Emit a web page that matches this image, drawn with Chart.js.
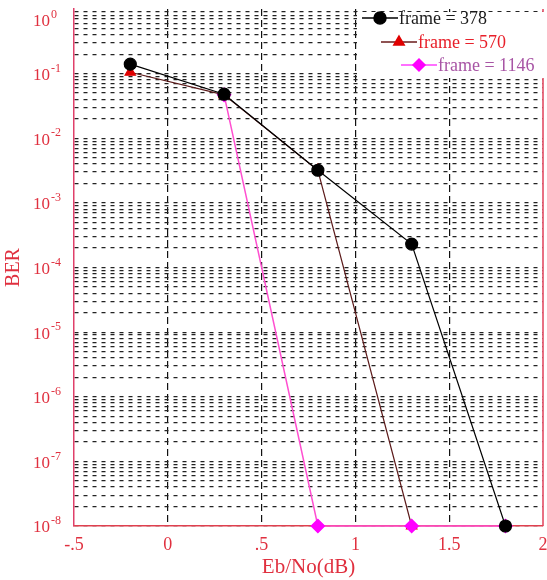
<!DOCTYPE html>
<html lang="en">
<head>
    <meta charset="UTF-8">
    <title>BER vs Eb/No</title>
    <script src="https://cdn.jsdelivr.net/npm/chart.js"></script>
    <style>
        * {
            margin: 0;
            padding: 0;
            box-sizing: border-box;
        }
        body {
            background-color: #ffffff;
        }
        .chart-box {
            width: 547px;
            height: 580px;
        }
    </style>
</head>
<body>
    <div class="chart-box">
        <canvas id="berChart" width="547" height="580"></canvas>
    </div>

    <script>
        // data
        const ebNo = [-0.2, 0.3, 0.8, 1.3, 1.8];
        const ber378 = [0.14, 0.048, 0.0032, 0.00023, 1e-8];
        const ber570 = [0.105, 0.047, 0.0032, 1e-8, null];
        const ber1146 = [null, 0.047, 1e-8, 1e-8, 1e-8];
        const seriesNames = ['frame = 378', 'frame = 570', 'frame = 1146'];

        const xTickValues = [-0.5, 0, 0.5, 1, 1.5, 2];
        const xTickLabels = ['-.5', '0', '.5', '1', '1.5', '2'];
        const yExponents = [0, -1, -2, -3, -4, -5, -6, -7, -8];
        const yMinorSteps = [1, 2, 3, 4, 5, 6, 7, 8, 9];

        const axisRed = '#e0303f';
        const serif = '"Liberation Serif", "Times New Roman", serif';

        function toPoints(values) {
            return ebNo.map((x, i) => ({ x: x, y: values[i] }));
        }

        // y labels as 10 with a raised exponent, right border and the staggered legend
        const decorPlugin = {
            id: 'decor',
            afterDatasetsDraw(chart) {
                const ctx = chart.ctx;
                const area = chart.chartArea;
                const yScale = chart.scales.y;

                ctx.save();
                ctx.strokeStyle = '#e0405a';
                ctx.lineWidth = 1.5;
                ctx.beginPath();
                ctx.moveTo(area.right, area.top);
                ctx.lineTo(area.right, area.bottom);
                ctx.stroke();

                // legend box hides the grid behind it
                const lx = area.right - 186;
                ctx.fillStyle = '#ffffff';
                ctx.fillRect(lx, area.top + 3, chart.width - lx, 66);

                const entries = [
                    { name: seriesNames[0], line: '#000000', mark: '#000000', text: '#1a1a1a', style: 'circle', dx: 5, y: 18 },
                    { name: seriesNames[1], line: '#6a1a1a', mark: '#e00000', text: '#e8202a', style: 'triangle', dx: 24, y: 42 },
                    { name: seriesNames[2], line: '#ff40ff', mark: '#ff00ff', text: '#a855a5', style: 'rectRot', dx: 44, y: 65 }
                ];
                entries.forEach(e => {
                    const x0 = lx + e.dx;
                    ctx.strokeStyle = e.line;
                    ctx.lineWidth = 1.5;
                    ctx.beginPath();
                    ctx.moveTo(x0, e.y);
                    ctx.lineTo(x0 + 36, e.y);
                    ctx.stroke();
                    ctx.fillStyle = e.mark;
                    ctx.strokeStyle = e.mark;
                    Chart.helpers.drawPoint(ctx, { pointStyle: e.style, radius: 6, borderWidth: 1 }, x0 + 18, e.y);
                    ctx.fillStyle = e.text;
                    ctx.font = '18px ' + serif;
                    ctx.textAlign = 'left';
                    ctx.textBaseline = 'middle';
                    ctx.fillText(e.name, x0 + 37, e.y + 1);
                });

                ctx.fillStyle = axisRed;
                ctx.textBaseline = 'middle';
                yExponents.forEach(exp => {
                    let py = yScale.getPixelForValue(Math.pow(10, exp));
                    py = Math.max(py, area.top + 11);
                    ctx.font = '17px ' + serif;
                    ctx.textAlign = 'right';
                    ctx.fillText('10', area.left - 24, py + 2);
                    ctx.font = '12px ' + serif;
                    ctx.textAlign = 'left';
                    ctx.fillText(String(exp), area.left - 23, py - 5);
                });
                ctx.restore();
            }
        };

        const ctx = document.getElementById('berChart').getContext('2d');
        new Chart(ctx, {
            type: 'line',
            data: {
                datasets: [{
                    label: seriesNames[0],
                    data: toPoints(ber378),
                    borderColor: '#000000',
                    borderWidth: 1.2,
                    pointStyle: 'circle',
                    pointRadius: 6,
                    pointBackgroundColor: '#000000',
                    pointBorderColor: '#000000',
                    order: 0
                }, {
                    label: seriesNames[1],
                    data: toPoints(ber570),
                    borderColor: '#5c1a1a',
                    borderWidth: 1.2,
                    pointStyle: 'triangle',
                    pointRadius: 6,
                    pointBackgroundColor: '#e00000',
                    pointBorderColor: '#e00000',
                    order: 2
                }, {
                    label: seriesNames[2],
                    data: toPoints(ber1146),
                    borderColor: '#ff4fd0',
                    borderWidth: 1.5,
                    pointStyle: 'rectRot',
                    pointRadius: 6.5,
                    pointBackgroundColor: '#ff00ff',
                    pointBorderColor: '#ff00ff',
                    order: 1
                }]
            },
            options: {
                responsive: false,
                animation: false,
                layout: {
                    autoPadding: false,
                    padding: { left: 0, right: 4, top: 9, bottom: 0 }
                },
                elements: {
                    line: { tension: 0 }
                },
                datasets: {
                    line: { clip: false, spanGaps: false }
                },
                plugins: {
                    legend: { display: false },
                    tooltip: { enabled: false }
                },
                scales: {
                    x: {
                        type: 'linear',
                        min: -0.5,
                        max: 2,
                        afterBuildTicks: scale => {
                            scale.ticks = xTickValues.map(v => ({ value: v }));
                        },
                        afterFit: scale => {
                            scale.height = 54;
                            scale.paddingLeft = 0;
                            scale.paddingRight = 0;
                        },
                        ticks: {
                            autoSkip: false,
                            maxRotation: 0,
                            padding: 8,
                            color: axisRed,
                            font: { family: serif, size: 18 },
                            callback: (value, index) => xTickLabels[index]
                        },
                        grid: {
                            drawTicks: false,
                            lineWidth: 1.2,
                            color: c => (c.tick && (c.tick.value === -0.5 || c.tick.value === 2)) ? 'rgba(0,0,0,0)' : '#111111'
                        },
                        border: {
                            display: true,
                            color: '#e0404f',
                            width: 1.5,
                            dash: [7, 4]
                        },
                        title: {
                            display: true,
                            text: 'Eb/No(dB)',
                            color: axisRed,
                            font: { family: serif, size: 21 },
                            padding: { top: 0, bottom: 0 }
                        }
                    },
                    y: {
                        type: 'logarithmic',
                        min: 1e-8,
                        max: 1,
                        afterBuildTicks: scale => {
                            const ticks = [];
                            yExponents.forEach(exp => {
                                yMinorSteps.forEach(s => {
                                    const v = s * Math.pow(10, exp);
                                    if (v <= 1) ticks.push({ value: v });
                                });
                            });
                            scale.ticks = ticks.sort((a, b) => a.value - b.value);
                        },
                        afterFit: scale => {
                            scale.width = 74;
                            scale.paddingTop = 0;
                            scale.paddingBottom = 0;
                        },
                        ticks: {
                            display: false,
                            autoSkip: false
                        },
                        grid: {
                            drawTicks: false,
                            lineWidth: 1.2,
                            color: c => (c.tick && c.tick.value === 1) ? 'rgba(0,0,0,0)' : '#222222'
                        },
                        border: {
                            display: true,
                            color: '#e0406a',
                            width: 1.5,
                            dash: [4, 5]
                        },
                        title: {
                            display: true,
                            text: 'BER',
                            color: axisRed,
                            font: { family: serif, size: 20 },
                            padding: { top: 2, bottom: 0 }
                        }
                    }
                }
            },
            plugins: [decorPlugin]
        });
    </script>
</body>
</html>
